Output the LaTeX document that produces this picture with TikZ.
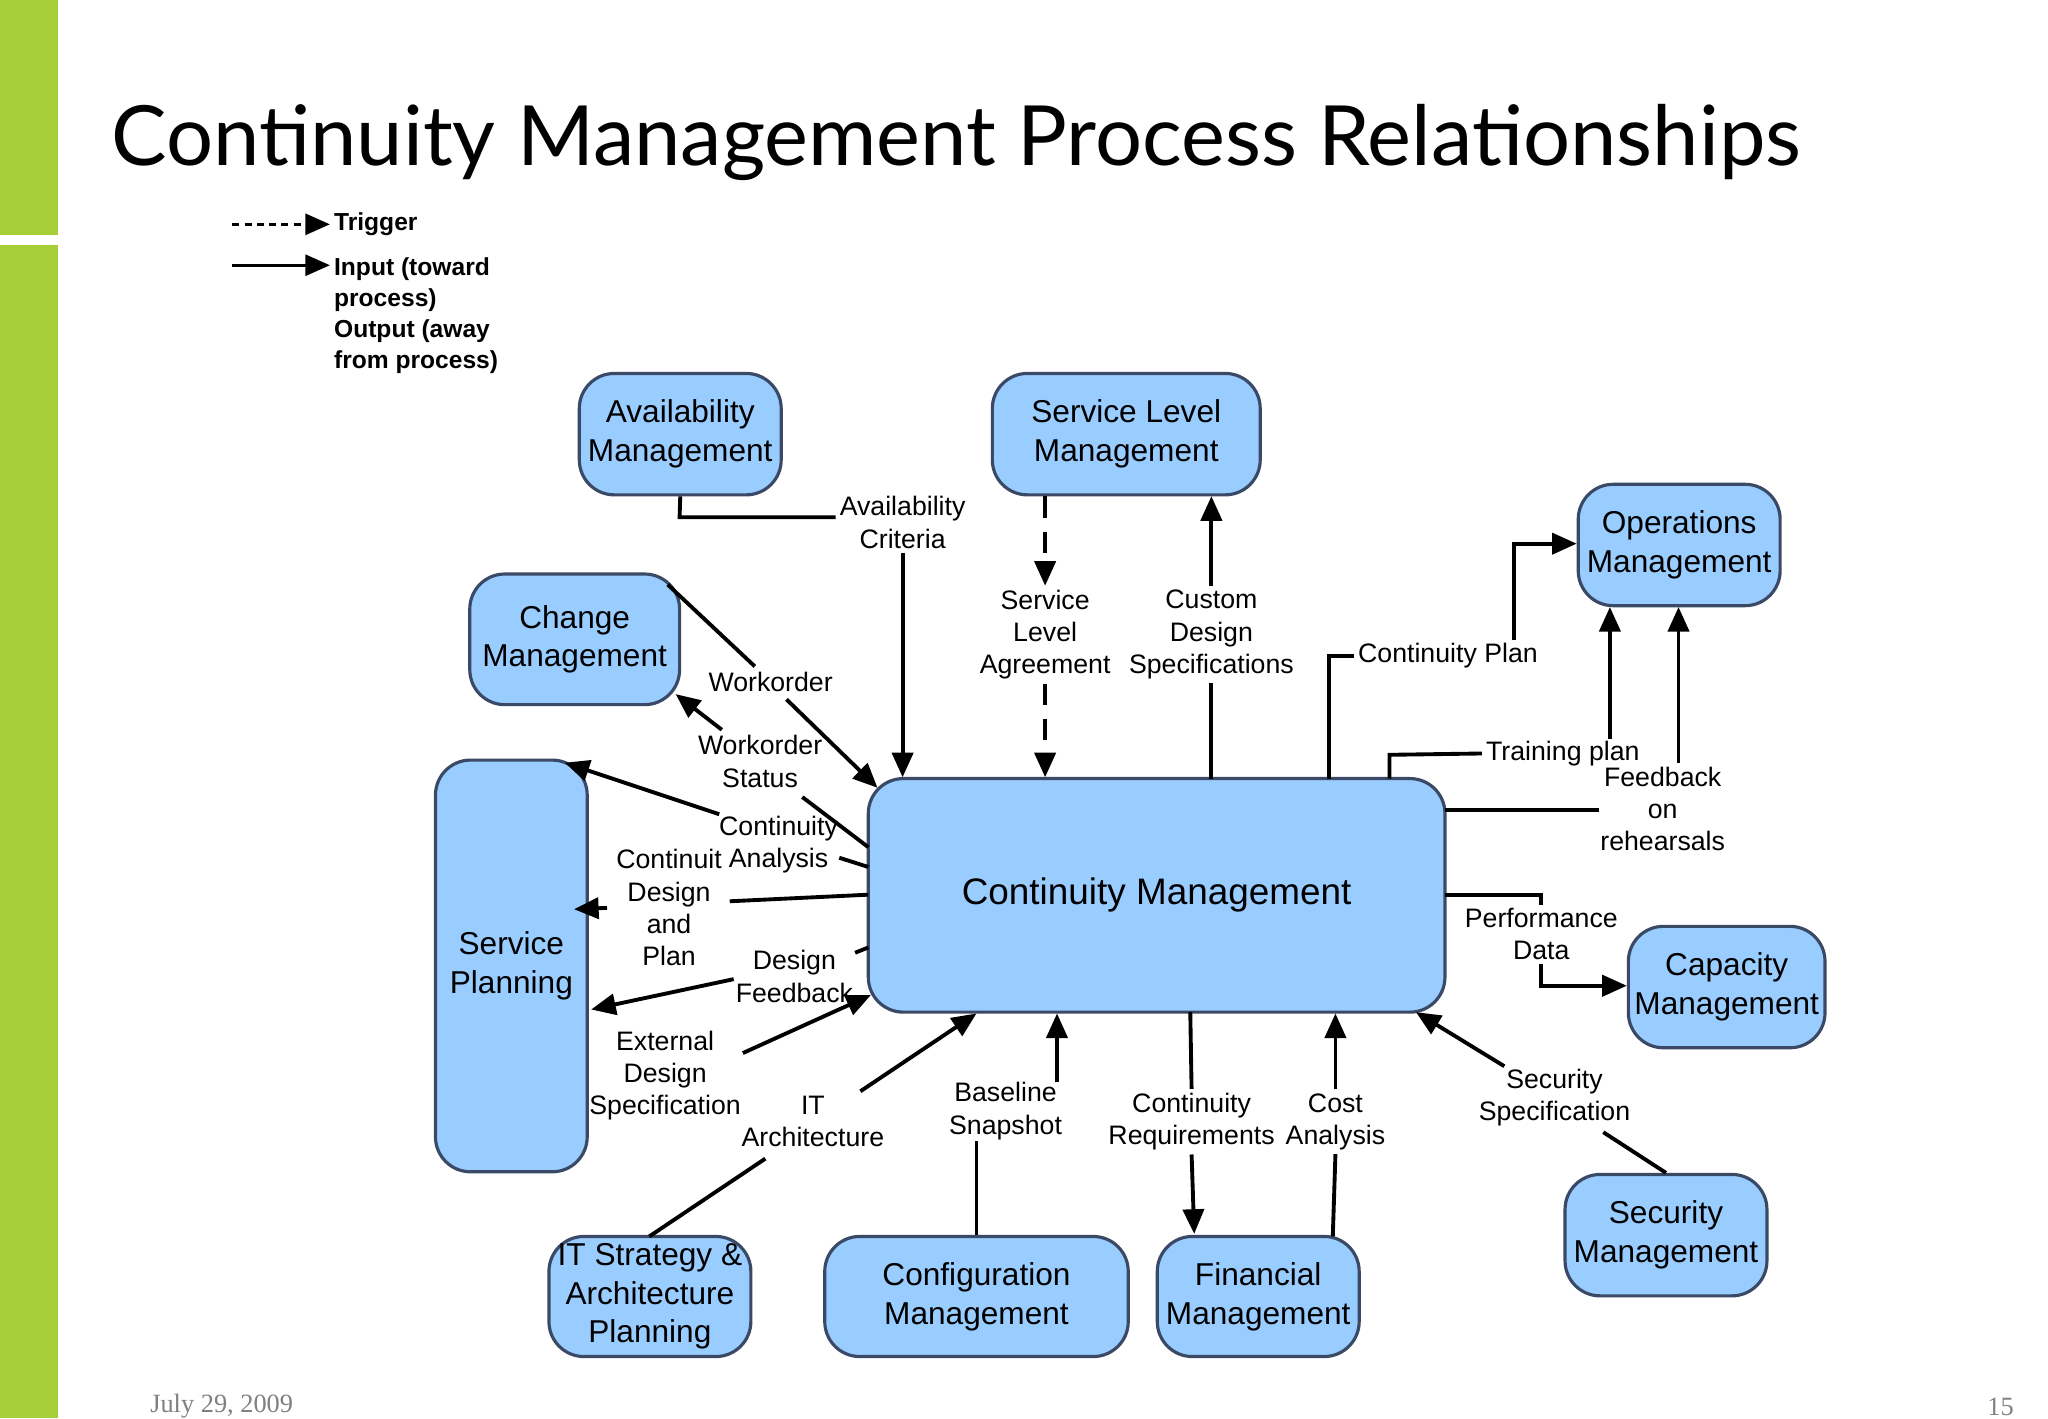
\documentclass[tikz,border=0pt]{standalone}
\usepackage{fontspec}
\setmainfont{Liberation Sans}
\newfontfamily\titlefont{Lato}
\newfontfamily\footfont{Liberation Serif}
\usetikzlibrary{arrows.meta}
\definecolor{boxfill}{HTML}{99CCFF}
\definecolor{boxdraw}{HTML}{3A4A66}
\definecolor{barg}{HTML}{A6CE39}
\tikzset{
 box/.style={draw=boxdraw,line width=0.9pt,fill=boxfill,rounded corners=0.35cm,align=center,font=\fontsize{9pt}{11pt}\selectfont,inner sep=0pt},
 lab/.style={align=center,font=\fontsize{7.6pt}{9.2pt}\selectfont,inner sep=1pt},
 ln/.style={line width=1.1pt,black},
 ar/.style={ln,-{Triangle[length=7pt,width=6pt]}},
 dsh/.style={dash pattern=on 6pt off 4pt}
}
\newcommand\bx[6]{\node[box,minimum width={(#4-#2)*0.0132cm},minimum height={(#5-#3)*0.0132cm}] (#1) at ({(#2+#4)/2},{(#3+#5)/2}) {#6};}
\begin{document}
\begin{tikzpicture}[x=0.0132cm,y=-0.0132cm]
\useasboundingbox (0,0) rectangle (1552,1074.6);
\fill[white] (0,0) rectangle (1552,1074.6);
\fill[barg] (0,0) rectangle (44,178);
\fill[barg] (0,186) rectangle (44,1074.6);
\node[anchor=west,inner sep=0] (title) at (84,108) {\resizebox{16.9cm}{!}{\titlefont Continuity Management Process Relationships}};
% legend
\coordinate (l1a) at (176,170); \node[anchor=west,lab,font=\bfseries\fontsize{7pt}{8.8pt}\selectfont] (trig) at (250,170) {Trigger};
\draw[ar,line width=0.8pt,dash pattern=on 2pt off 1.5pt] (l1a) -- (trig.west);
\coordinate (l2a) at (176,201); \node[anchor=north west,align=left,inner sep=1pt,font=\bfseries\fontsize{7pt}{8.8pt}\selectfont] (inp) at (250,192) {Input (toward\\process)\\Output (away\\from process)};
\draw[ar,line width=0.8pt] (l2a) -- (250,201);
% boxes
\bx{av}{439}{283}{592}{375}{Availability\\Management}
\bx{slm}{752}{283}{955}{375}{Service Level\\Management}
\bx{ops}{1196}{367}{1349}{459}{Operations\\Management}
\bx{chg}{356}{435}{515}{534}{Change\\Management}
\bx{sp}{330}{576}{445}{888}{Service\\Planning}
\bx{cm}{658}{590}{1095}{767}{\fontsize{10.5pt}{12pt}\selectfont Continuity Management}
\bx{cap}{1234}{702}{1383}{794}{Capacity\\Management}
\bx{sec}{1186}{890}{1339}{982}{Security\\Management}
\bx{its}{416}{937}{569}{1028}{IT Strategy \&\\Architecture\\Planning}
\bx{cfg}{625}{937}{855}{1028}{Configuration\\Management}
\bx{fin}{877}{937}{1030}{1028}{Financial\\Management}
% labels
\node[lab] (lac) at (684,396) {Availability\\Criteria};
\node[lab] (lsla) at (792,481) {Service\\Level\\Agreement};
\node[lab] (lcds) at (918,481) {Custom\\Design\\Specifications};
\node[lab,anchor=west] (lcp) at (1026,497) {Continuity Plan};
\node[lab,anchor=west] (ltp) at (1123,571) {Training plan};
\node[lab] (lfr) at (1260,613) {Feedback\\on\\rehearsals};
\node[lab] (lpd) at (1168,708) {Performance\\Data};
\node[lab] (lss) at (1178,832) {Security\\Specification};
\node[lab] (lca) at (1012,850) {Cost\\Analysis};
\node[lab] (lcr) at (903,850) {Continuity\\Requirements};
\node[lab] (lbs) at (762,842) {Baseline\\Snapshot};
\node[lab] (lit) at (616,850) {IT\\Architecture};
\node[lab] (leds) at (504,815) {External\\Design\\Specification};
\node[lab] (ldf) at (602,740) {Design\\Feedback};
\node[lab] (lcdp) at (507,688) {Continuit\\Design\\and\\Plan};
\node[lab] (lcan) at (590,640) {Continuity\\Analysis};
\node[lab] (lws) at (576,577) {Workorder\\Status};
\node[lab] (lwo) at (584,517) {Workorder};
% connectors
\draw[ln] (av.south) -- (515,392) -- (lac.west|-392,392);
\draw[ar] (lac.south) -- (684,589);
\draw[ar,dsh] (slm.south -| 792,0) -- (lsla.north);
\draw[ar,dsh] (lsla.south) -- (792,589);
\draw[ln] (918,590) -- (lcds.south);
\draw[ar] (lcds.north) -- (918,376);
\draw[ln] (1007,590) -- (1007,497) -- (lcp.west);
\draw[ar] (1147,485) -- (1147,412) -- (ops.west|-1147,412);
\draw[ln] (1053,590) -- (1053,572) -- (ltp.west);
\draw[ar] (1220,560) -- (1220,460);
\draw[ln] (1095,614) -- (1212,614);
\draw[ar] (1272,578) -- (1272,460);
\draw[ln] (1095,678) -- (1168,678) -- (1168,686);
\draw[ar] (lpd.south) -- (1168,747) -- (cap.west|-1168,747);
\draw[ln] (sec.north) -- (1215,858);
\draw[ar] (1140,808) -- (1073,767);
\draw[ln] (1010,937) -- (lca.south);
\draw[ar] (lca.north) -- (1012,768);
\draw[ln] (902,767) -- (lcr.north);
\draw[ar] (lcr.south) -- (905,935);
\draw[ln] (cfg.north) -- (740,865);
\draw[ar] (801,820) -- (801,768);
\draw[ln] (492,937) -- (580,878);
\draw[ar] (652,827) -- (740,768);
\draw[ar] (563,798) -- (660,754);
\draw[ln] (658,718) -- (648,722);
\draw[ar] (556,742) -- (448,765);
\draw[ln] (658,678) -- (553,683);
\draw[ar] (460,688) -- (435,689);
\draw[ln] (658,657) -- (636,650);
\draw[ar] (545,617) -- (428,578);
\draw[ln] (658,642) -- (608,604);
\draw[ar] (547,553) -- (512,526);
\draw[ln] (506,443) -- (572,505);
\draw[ar] (596,530) -- (665,597);
% footer
\node[font=\footfont\fontsize{7.5pt}{9pt}\selectfont,text=gray] (date) at (168,1066) {July 29, 2009};
\node[font=\footfont\fontsize{7.5pt}{9pt}\selectfont,text=gray] (pg) at (1516,1066) {15};
\end{tikzpicture}
\end{document}
